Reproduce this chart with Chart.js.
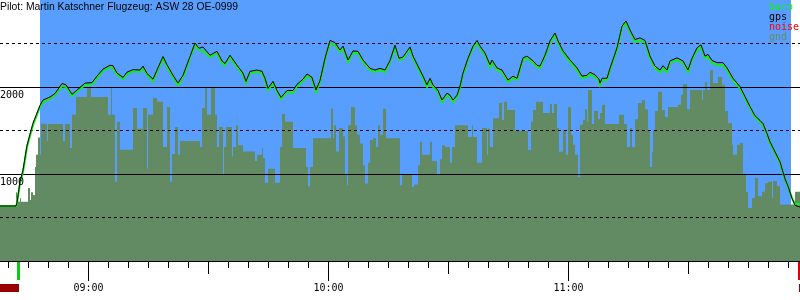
<!DOCTYPE html>
<html>
<head>
<meta charset="utf-8">
<script src="https://cdn.jsdelivr.net/npm/chart.js@4.4.1/dist/chart.umd.min.js"></script>
<style>
  body { margin: 0; background: #fff; }
  #wrap { width: 800px; height: 300px; }
</style>
</head>
<body>
<div id="wrap"><canvas id="chart1" width="800" height="300"></canvas></div>
<script>
// time is in minutes after midnight, altitude in metres
const titleText = "Pilot: Martin Katschner Flugzeug: ASW 28 OE-0999";
const timeMin = 518, timeMax = 718;      // 08:38 .. 11:58
const altMin = 0, altMax = 3000;
const solidLevels = [1000, 2000];
const dashedLevels = [500, 1500, 2500];
const levelLabels = [2000, 1000];
const hourTicks = [540, 600, 660];
const hourLabels = ["09:00", "10:00", "11:00"];
const skyStart = 528, skyEnd = 715.75;
const takeoffTime = 522.5, landingTime = 717.5;
const noiseStart = [518, 717.75];
const noiseEnd = [522.75, 718];
const legendNames = ["baro", "gps", "noise", "gnd"];

const flightTime = [
  518, 522, 522.25, 523, 523.75, 524.75, 526.25, 528, 528.75, 530.5,
  531.75, 533.5, 534.5, 536, 538, 539.25, 541, 542.25, 543.75, 545.5,
  546.25, 547.25, 548, 548.75, 549.75, 551.25, 553, 553.75, 554.75, 556.25,
  557.25, 558.75, 559.75, 561.25, 562.5, 563.75, 565.5, 566.75, 567.75, 568.75,
  570.5, 572.25, 573.5, 574.25, 575.5, 577.25, 578.75, 579.5, 580.5, 582.25,
  583.5, 584.25, 585, 586.25, 587.25, 588.25, 589.75, 591.25, 592.25, 593.75,
  594.75, 596, 597, 598, 599.25, 600.5, 601.75, 603, 603.75, 605,
  606.25, 607.5, 608.75, 610.5, 611.75, 613, 614.25, 615.5, 616.75, 617.75,
  618.75, 620.5, 621.25, 622.5, 623.75, 624.75, 625.5, 626.25, 627.5, 628.5,
  629.75, 630.5, 631.25, 632.25, 633, 633.75, 635, 636.25, 637.25, 638,
  639.25, 640.5, 641, 642.25, 643.5, 645, 646.25, 647.25, 648.75, 649.75,
  651.25, 652.25, 653, 654.25, 655.5, 656.75, 657.5, 658.75, 660.5, 662.25,
  663.5, 664.75, 665.5, 666.75, 667.75, 668, 668.5, 669.75, 670.5, 672.25,
  673.5, 674.5, 675.5, 676.75, 678, 679.25, 680.5, 681.75, 683, 683.75,
  684.75, 685.5, 687.25, 688.75, 690, 691, 692.25, 693.25, 694.25, 695,
  696, 697.25, 698.75, 699.75, 701.25, 703, 704.25, 705.5, 706.75, 708,
  708.75, 709.75, 710.5, 711.75, 713, 714.25, 715, 716, 716.75, 718
];

const baroAlt = [
  632, 632, 660, 896, 1023, 1310, 1563, 1770, 1828, 1862,
  1908, 2011, 2000, 1897, 1977, 2023, 2034, 2103, 2184, 2230,
  2218, 2138, 2115, 2092, 2149, 2184, 2172, 2218, 2138, 2069,
  2172, 2333, 2230, 2115, 2023, 2115, 2333, 2483, 2425, 2420,
  2345, 2391, 2276, 2253, 2345, 2230, 2138, 2046, 2161, 2172,
  2161, 2080, 1965, 2046, 1942, 1862, 1942, 1931, 2011, 2069,
  2126, 2092, 1942, 2057, 2310, 2506, 2483, 2402, 2448, 2287,
  2391, 2391, 2287, 2195, 2172, 2195, 2172, 2287, 2460, 2310,
  2322, 2437, 2333, 2218, 2103, 2000, 2080, 2000, 1942, 1828,
  1908, 1885, 1828, 1885, 1988, 2138, 2310, 2448, 2506, 2448,
  2368, 2230, 2287, 2195, 2172, 2057, 2103, 2080, 2310, 2333,
  2276, 2230, 2218, 2345, 2506, 2598, 2506, 2391, 2287, 2195,
  2103, 2115, 2149, 2115, 2069, 2023, 2080, 2080, 2195, 2425,
  2678, 2736, 2632, 2517, 2540, 2506, 2333, 2218, 2172, 2218,
  2172, 2276, 2310, 2276, 2172, 2310, 2425, 2460, 2333, 2345,
  2276, 2253, 2253, 2195, 2080, 1988, 1874, 1759, 1655, 1598,
  1563, 1448, 1356, 1241, 1126, 931, 851, 724, 655, 655
];

const gpsAlt = [
  632, 632, 670, 915, 1045, 1330, 1585, 1790, 1850, 1885,
  1925, 2040, 2025, 1915, 1995, 2045, 2050, 2125, 2205, 2250,
  2245, 2160, 2135, 2110, 2170, 2200, 2195, 2240, 2155, 2090,
  2195, 2350, 2255, 2135, 2045, 2135, 2350, 2505, 2445, 2460,
  2365, 2410, 2300, 2270, 2365, 2250, 2160, 2065, 2180, 2195,
  2180, 2100, 1985, 2065, 1960, 1880, 1960, 1960, 2030, 2090,
  2150, 2110, 1965, 2075, 2330, 2535, 2510, 2425, 2470, 2310,
  2415, 2410, 2310, 2215, 2195, 2215, 2195, 2305, 2480, 2330,
  2345, 2460, 2355, 2240, 2125, 2025, 2100, 2025, 1960, 1850,
  1930, 1905, 1850, 1905, 2010, 2160, 2330, 2470, 2535, 2470,
  2390, 2255, 2310, 2220, 2195, 2080, 2125, 2100, 2335, 2355,
  2300, 2250, 2240, 2365, 2530, 2620, 2530, 2415, 2310, 2220,
  2125, 2135, 2170, 2140, 2090, 2045, 2100, 2100, 2215, 2450,
  2700, 2760, 2655, 2545, 2565, 2535, 2355, 2240, 2195, 2245,
  2195, 2300, 2335, 2300, 2195, 2330, 2450, 2485, 2355, 2375,
  2305, 2280, 2280, 2220, 2100, 2005, 1890, 1775, 1670, 1615,
  1580, 1465, 1370, 1255, 1140, 945, 860, 720, 640, 620
];

// terrain under the track, one step per entry
const gndTime = [
  518, 522, 522.25, 523, 523.25, 525, 525.5, 525.75, 526.25, 526.75,
  527, 527.5, 528, 528.25, 528.75, 529.75, 530, 533.75, 534.25, 535.5,
  536, 537, 539.75, 540.75, 545, 545.75, 546, 546.75, 547.25, 548,
  551.25, 552.25, 553.75, 554.75, 555, 556.25, 557.25, 558.75, 559.75, 560.5,
  561, 561.75, 562.5, 563, 568, 568.5, 569.25, 569.75, 570.75, 571.75,
  572.25, 572.75, 573.75, 574, 574.5, 576, 576.25, 577, 577.5, 578.75,
  581.75, 582.25, 583.5, 583.75, 584.25, 585, 586.75, 588, 588.5, 589.25,
  591.25, 594.5, 595, 595.5, 596.25, 600.75, 601.25, 601.5, 602, 602.75,
  603.75, 604.25, 604.75, 605, 605.75, 606.75, 607.25, 608, 608.75, 609.25,
  610, 610.5, 611.25, 612, 612.5, 613, 613.75, 614.5, 618, 618.5,
  621, 621.5, 622.5, 623, 623.5, 625.5, 626, 627.25, 628, 628.5,
  629.25, 630.5, 631, 631.75, 635, 636, 636.25, 637.25, 638.5, 639.75,
  640, 640.5, 641.25, 642.75, 643.5, 644, 644.75, 646.75, 650, 650.75,
  651.25, 652, 653.75, 655.5, 656, 656.5, 657.25, 657.75, 658.75, 659.5,
  660, 660.75, 661.25, 661.75, 662.5, 663, 663.75, 664.25, 664.75, 665,
  666, 666.5, 667.5, 668, 668.5, 669.25, 672.75, 674, 674.75, 675.5,
  676, 676.75, 677.5, 678.5, 679.25, 680, 680.5, 681, 681.25, 681.75,
  682.5, 683.5, 684.25, 685, 687.5, 688.25, 688.75, 689.75, 690.5, 693.5,
  693.75, 694.25, 694.75, 695.5, 696.25, 697.5, 698.5, 699.25, 700, 701,
  701.25, 702.25, 703, 703.75, 704.5, 705, 706, 706.75, 707.5, 708.5,
  709.25, 710, 711, 711.25, 712.25, 713, 716.75, 718
];

const gndAlt = [
  620, 790, 680, 720, 680, 840, 700, 790, 760, 1080,
  1220, 1420, 1220, 1580, 1575, 1380, 1575, 1380, 1575, 1300,
  1680, 1885, 2000, 1885, 1680, 2000, 1680, 910, 1600, 1280,
  1760, 1520, 1760, 1060, 1680, 1875, 1830, 1310, 1770, 910,
  1230, 1540, 1220, 1380, 1310, 1760, 2000, 1680, 2000, 1680,
  1310, 1540, 1000, 1310, 1540, 1200, 1310, 1560, 1330, 1260,
  1150, 1220, 1300, 1180, 900, 1060, 900, 1310, 1690, 1600,
  1300, 1080, 860, 1080, 1410, 1750, 1410, 1560, 1260, 1530,
  1430, 1000, 870, 1560, 1770, 1560, 1450, 1350, 1100, 890,
  1130, 1390, 1410, 1310, 1560, 1450, 1750, 1410, 870, 990,
  850, 880, 1100, 1370, 1220, 1370, 1150, 990, 1170, 1330,
  1310, 1130, 1310, 1560, 1425, 1560, 1425, 1130, 1530, 1220,
  1520, 1310, 1640, 1815, 1620, 1830, 1735, 1495, 1275, 1600,
  1735, 1830, 1700, 1805, 1700, 1805, 1530, 1255, 1505, 1220,
  1770, 1450, 1335, 1220, 965, 1565, 1620, 1745, 1600, 1965,
  1575, 1725, 1630, 1700, 1795, 1575, 1680, 1575, 1310, 1530,
  1310, 1630, 1815, 1850, 1745, 1505, 1080, 1250, 1505, 1725,
  1945, 1735, 1655, 1770, 1795, 1910, 2035, 1745, 1965, 1850,
  1965, 2055, 1965, 2195, 2045, 2115, 2025, 1725, 1585, 1335,
  1220, 1335, 1355, 1000, 795, 610, 725, 955, 745, 795,
  895, 910, 725, 920, 860, 650, 795, 795
];

const colors = {
  sky: "#589eff",
  gnd: "#638b63",
  baro: "#11ee11",
  gps: "#000000",
  noise: "#ff0000",
  noiseBar: "#990000",
  takeoff: "#10c810",
  landing: "#dd0000"
};

const pts = (xs, ys) => xs.map((x, i) => ({ x, y: ys[i] }));

// decorations drawn with the chart's own scales
const flightDecor = {
  id: "flightDecor",
  beforeDatasetsDraw(chart) {
    const { ctx, chartArea: a, scales: { x } } = chart;
    ctx.save();
    ctx.fillStyle = colors.sky;
    const x0 = x.getPixelForValue(skyStart), x1 = x.getPixelForValue(skyEnd);
    ctx.fillRect(x0, a.top, x1 - x0, a.bottom - a.top);
    ctx.restore();
  },
  afterDatasetDraw(chart, args) {
    if (args.index !== 0) return;
    const { ctx, chartArea: a, scales: { y } } = chart;
    ctx.save();
    ctx.strokeStyle = "#000";
    ctx.lineWidth = 1;
    const hline = (v, dash) => {
      const py = Math.floor(y.getPixelForValue(v)) + 0.5;
      ctx.setLineDash(dash);
      ctx.beginPath();
      ctx.moveTo(a.left, py);
      ctx.lineTo(a.right, py);
      ctx.stroke();
    };
    solidLevels.forEach(v => hline(v, []));
    dashedLevels.forEach(v => hline(v, [3, 3]));
    ctx.restore();
  },
  afterDraw(chart) {
    const { ctx, chartArea: a, scales: { x, y } } = chart;
    ctx.save();
    const base = Math.floor(y.getPixelForValue(altMin));

    // axis line
    ctx.fillStyle = "#000";
    ctx.fillRect(a.left, base, a.right - a.left, 1);

    // ticks every 5 min, longer at half and full hours
    for (let t = Math.ceil(timeMin / 5) * 5; t < timeMax; t += 5) {
      const px = Math.floor(x.getPixelForValue(t) + 0.5);
      const len = t % 60 === 0 ? 19 : (t % 30 === 0 ? 12 : 6);
      ctx.fillRect(px, base + 1, 1, len);
    }

    ctx.font = "10px 'DejaVu Sans Mono', monospace";
    ctx.textAlign = "center";
    ctx.textBaseline = "alphabetic";
    hourTicks.forEach((t, i) => ctx.fillText(hourLabels[i], x.getPixelForValue(t) + 0.5, base + 30));

    // altitude labels, just under their grid line
    ctx.textAlign = "left";
    levelLabels.forEach(v => ctx.fillText(String(v), 0, Math.floor(y.getPixelForValue(v)) + 11));

    // takeoff / landing markers and engine noise
    let px = x.getPixelForValue(takeoffTime);
    ctx.fillStyle = colors.takeoff;
    ctx.fillRect(Math.floor(px) - 1, base + 1, 3, 18);
    px = x.getPixelForValue(landingTime);
    ctx.fillStyle = colors.landing;
    ctx.fillRect(Math.floor(px), base + 1, 2, 18);
    ctx.fillStyle = colors.noiseBar;
    noiseStart.forEach((t, i) => {
      const x0 = x.getPixelForValue(t), x1 = x.getPixelForValue(noiseEnd[i]);
      ctx.fillRect(x0, base + 23, Math.max(1, x1 - x0), 8);
    });

    // legend
    const legendColors = [colors.baro, colors.gps, colors.noise, colors.gnd];
    legendNames.forEach((n, i) => {
      ctx.fillStyle = legendColors[i];
      ctx.fillText(n, 769, 10 + i * 10);
    });

    // title
    ctx.fillStyle = "#000";
    ctx.font = "11px 'Liberation Sans', Arial, sans-serif";
    ctx.fillText(titleText, 0, 10, 238);
    ctx.restore();
  }
};

new Chart(document.getElementById("chart1"), {
  type: "line",
  data: {
    datasets: [
      {
        label: "gnd",
        data: pts(gndTime, gndAlt),
        stepped: true,
        fill: "origin",
        backgroundColor: colors.gnd,
        borderWidth: 0,
        pointRadius: 0,
        order: 3
      },
      {
        label: "baro",
        data: pts(flightTime, baroAlt),
        borderColor: colors.baro,
        borderWidth: 2,
        pointRadius: 0,
        tension: 0,
        order: 2
      },
      {
        label: "gps",
        data: pts(flightTime, gpsAlt),
        borderColor: colors.gps,
        borderWidth: 1,
        pointRadius: 0,
        tension: 0,
        order: 1
      }
    ]
  },
  options: {
    responsive: false,
    animation: false,
    layout: { padding: { left: 0, right: 0, top: 0, bottom: 39 } },
    plugins: { legend: { display: false }, tooltip: { enabled: false } },
    scales: {
      x: { type: "linear", min: timeMin, max: timeMax, display: false },
      y: { min: altMin, max: altMax, display: false }
    }
  },
  plugins: [flightDecor]
});
</script>
</body>
</html>
